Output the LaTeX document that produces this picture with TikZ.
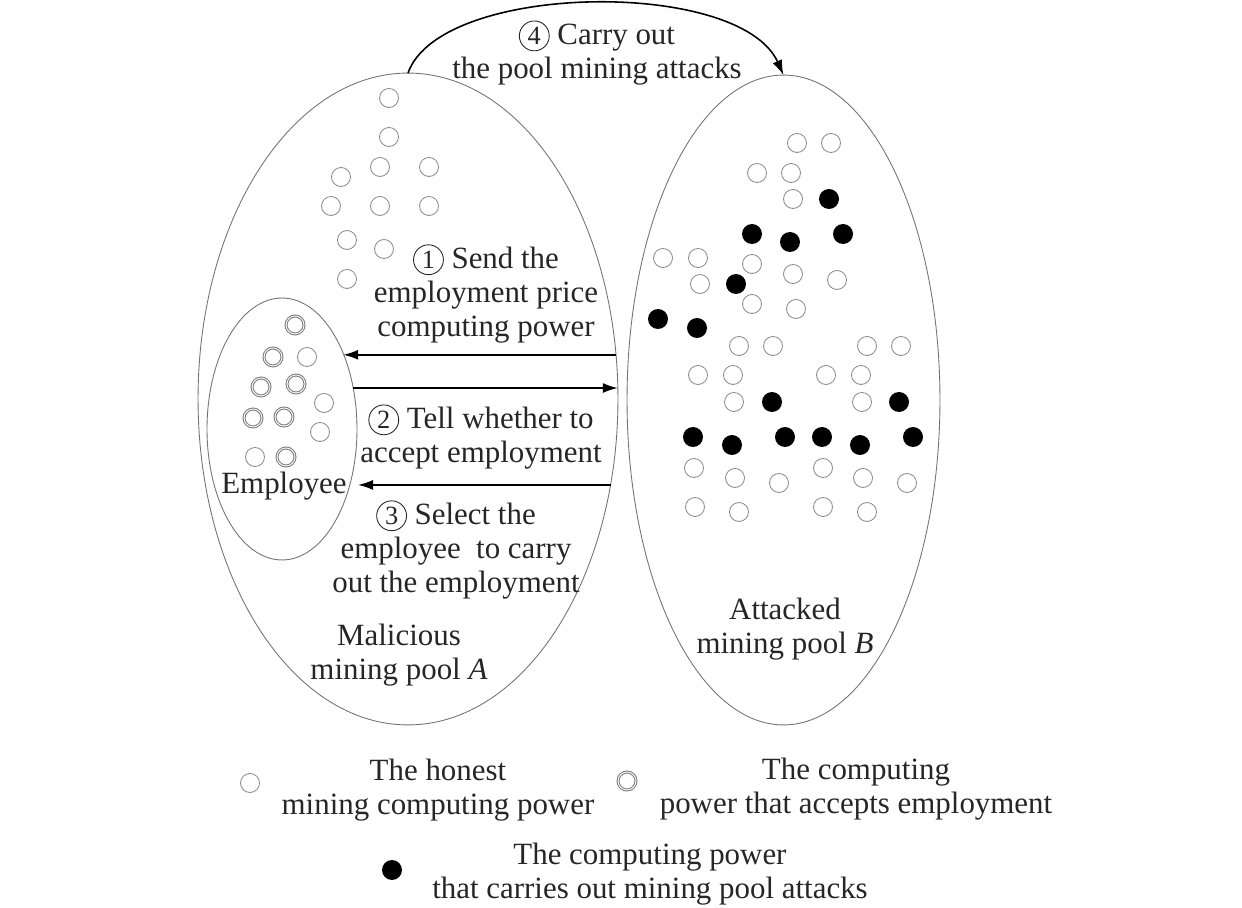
\documentclass[tikz,border=0pt]{standalone}
\usepackage{fontspec}
\setmainfont{Liberation Serif}
\usetikzlibrary{shapes.geometric, arrows.meta}
\colorlet{poolBorder}{black!55}
\colorlet{honestRim}{black!45}
\colorlet{hiredRim}{black!50}
\colorlet{textInk}{black!85}
\tikzset{
poolstyle/.style={ellipse, draw=poolBorder, line width=0.5pt, inner sep=0pt, outer sep=0pt},
honeststyle/.style={circle, draw=honestRim, line width=0.5pt, minimum size=0.38cm, inner sep=0pt},
hiredstyle/.style={circle, draw=hiredRim, double=white, double distance=0.5pt, line width=0.6pt, minimum size=0.36cm, inner sep=0pt},
attackstyle/.style={circle, fill=black, minimum size=0.40cm, inner sep=0pt},
labelstyle/.style={align=center, inner sep=0pt, text=textInk, font=\fontsize{17.6}{19.5}\selectfont},
digitstyle/.style={circle, draw=textInk, line width=0.5pt, inner sep=0pt, minimum size=17pt, font=\fontsize{15}{15}\selectfont},
arrowstyle/.style={-{Latex[length=0.3cm, width=0.2cm]}, line width=0.9pt}
}
\newcommand{\circnum}[1]{\tikz[baseline=(d.base)] \node [digitstyle] (d) {#1};}
\begin{document}
\begin{tikzpicture}[x=0.02cm, y=-0.02cm]
\useasboundingbox (0,0) rectangle (1242,908);

% the two pools and the employees
\node [poolstyle, minimum width=8.4cm, minimum height=13.04cm] (poolA) at (408,399) {};
\node [poolstyle, minimum width=6.26cm, minimum height=13.0cm] (poolB) at (783.5,400) {};
\node [poolstyle, minimum width=3.0cm, minimum height=5.24cm] (empl) at (282,429) {};

% mining power
\foreach \x/\y [count=\i] in {389/98, 389/137, 380/167, 429/167, 341/177, 331/206, 380/206, 429/206, 347/240, 384/249, 347/279, 307/357, 324/403, 320/432, 255/457}
  \node [honeststyle] (honA\i) at (\x,\y) {};
\foreach \x/\y [count=\i] in {295/325, 273/357, 261/387, 296/384, 253/418, 284/417, 286/457}
  \node [hiredstyle] (hired\i) at (\x,\y) {};
\foreach \x/\y [count=\i] in {797/143, 831/143, 757/173, 791/173, 793/199, 663/258, 698/258, 752/264, 793/274, 837/280, 700/284, 752/304, 796/309, 739/346, 773/346, 867/346, 901/346, 698/375, 733/375, 826/375, 861/375, 734/402, 862/402, 694/468, 735/478, 779/483, 823/468, 863/478, 907/483, 695/507, 739/512, 823/507, 867/512}
  \node [honeststyle] (honB\i) at (\x,\y) {};
\foreach \x/\y [count=\i] in {829/199, 752/234, 790/242, 843/234, 736/284, 658/319, 697/328, 772/402, 899/402, 693/437, 732/445, 785/437, 822/437, 860/445, 913/437}
  \node [attackstyle] (atk\i) at (\x,\y) {};

% messages
\draw [arrowstyle] (poolA.12) -- (poolA.12 -| empl.51);
\draw [arrowstyle] (empl.31 |- poolA.3) -- (poolA.3);
\draw [arrowstyle, shorten >=0.16cm] (poolA.-23) -- (poolA.-23 -| empl.-39);
\draw [arrowstyle] (poolA.north) .. controls (440,-18) and (740,-22) .. (poolB.north);

\node [labelstyle] (msg1) at (486,294) {\circnum{1} Send the\\employment price\\computing power};
\node [labelstyle] (msg2) at (481,437) {\circnum{2} Tell whether to\\accept employment};
\node [labelstyle] (msg3) at (456,550) {\circnum{3} Select the\\employee\ \ to carry\\out the employment};
\node [labelstyle] (msg4) at (597,53) {\circnum{4} Carry out\\the pool mining attacks};
\node [labelstyle] (emplText) at (284,486) {Employee};
\node [labelstyle] (poolAText) at (399,655) {Malicious\\mining pool \textit{A}};
\node [labelstyle] (poolBText) at (785,629) {Attacked\\mining pool \textit{B}};

% legend
\node [honeststyle] (keyHonest) at (250,783) {};
\node [labelstyle] (txtHonest) at (438,790) {The honest\\mining computing power};
\node [hiredstyle] (keyHired) at (627,781) {};
\node [labelstyle] (txtHired) at (856,789) {The computing\\power that accepts employment};
\node [attackstyle] (keyAttack) at (392,870) {};
\node [labelstyle] (txtAttack) at (650,874) {The computing power\\that carries out mining pool attacks};
\end{tikzpicture}
\end{document}
